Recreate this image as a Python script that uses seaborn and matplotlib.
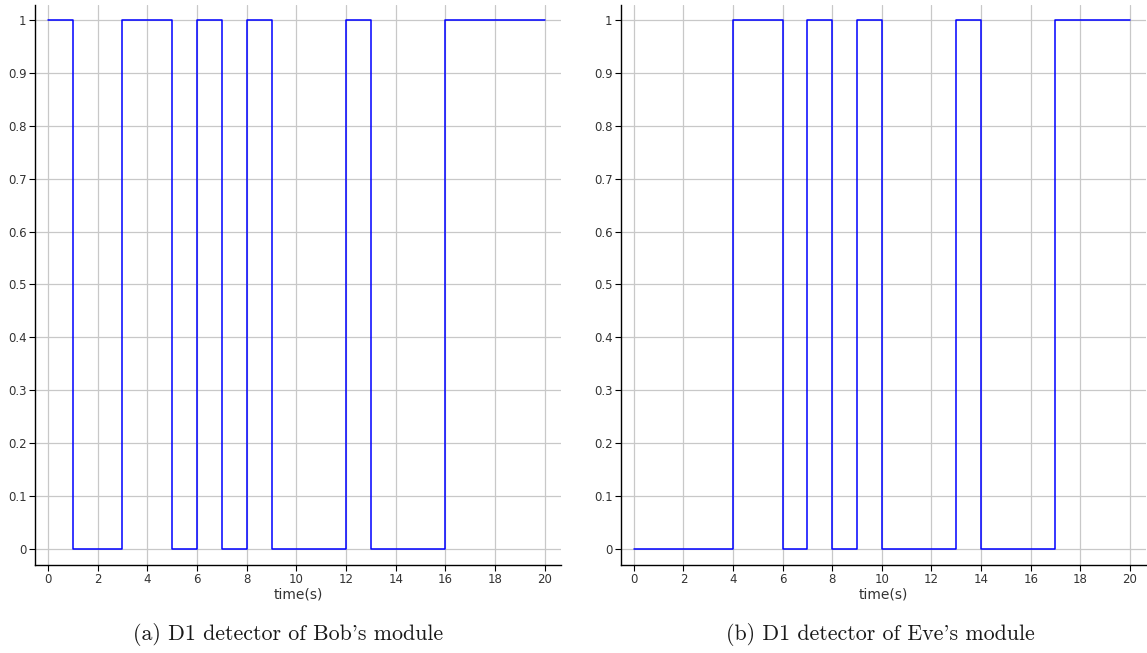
import matplotlib
matplotlib.use("Agg")
import matplotlib.pyplot as plt
import seaborn as sns
import pandas as pd

# Data: transition times and detector state (steps-post)
bob_times = [0, 1, 3, 5, 6, 7, 8, 9, 12, 13, 16, 20]
bob_values = [1, 0, 1, 0, 1, 0, 1, 0, 1, 0, 1, 1]
eve_times = [0, 4, 6, 7, 8, 9, 10, 13, 14, 17, 20]
eve_values = [0, 1, 0, 1, 0, 1, 0, 1, 0, 1, 1]
x_ticks = list(range(0, 21, 2))
y_ticks = [0, 0.1, 0.2, 0.3, 0.4, 0.5, 0.6, 0.7, 0.8, 0.9, 1]
y_tick_labels = ["0", "0.1", "0.2", "0.3", "0.4", "0.5", "0.6", "0.7", "0.8", "0.9", "1"]
captions = ["(a) D1 detector of Bob's module", "(b) D1 detector of Eve's module"]

sns.set_style("white")
plt.rcParams['font.family'] = ['DejaVu Sans']

fig = plt.figure(figsize=(11.47, 6.53), dpi=100)
W, H = 1147, 653
ax1 = fig.add_axes([35 / W, (H - 565) / H, (561 - 35) / W, (565 - 5) / H])
ax2 = fig.add_axes([621 / W, (H - 565) / H, (1146 - 621) / W, (565 - 5) / H])
cap_x = [288, 880]

for ax, t, v, cap, cx in [(ax1, bob_times, bob_values, captions[0], cap_x[0]),
                          (ax2, eve_times, eve_values, captions[1], cap_x[1])]:
    df = pd.DataFrame({"time": t, "value": v})
    sns.lineplot(data=df, x="time", y="value", ax=ax, color="#0000ff",
                 linewidth=1.1, drawstyle="steps-post", zorder=3)
    ax.set_xlim(-0.52, 20.65)
    ax.set_ylim(-0.03, 1.028)
    ax.set_xticks(x_ticks)
    ax.set_yticks(y_ticks)
    ax.set_yticklabels(y_tick_labels)
    ax.grid(True, color="#c8c8c8", linewidth=0.9, zorder=0)
    ax.set_axisbelow(True)
    for s in ["top", "right"]:
        ax.spines[s].set_visible(False)
    for s in ["left", "bottom"]:
        ax.spines[s].set_color("black")
        ax.spines[s].set_linewidth(1.0)
    ax.tick_params(axis="both", which="major", direction="out", length=4,
                   width=0.8, labelsize=8.5, colors="black", labelcolor="#333333",
                   bottom=True, left=True, pad=2)
    ax.set_xlabel("time(s)", fontsize=10, color="#333333", labelpad=1)
    ax.set_ylabel("")
    fig.text(cx / W, (H - 635) / H, cap, ha="center", va="center",
             fontsize=15.8, family=["cmr10", "DejaVu Serif"], color="#1a1a1a")

fig.savefig("out.png", dpi=100)
